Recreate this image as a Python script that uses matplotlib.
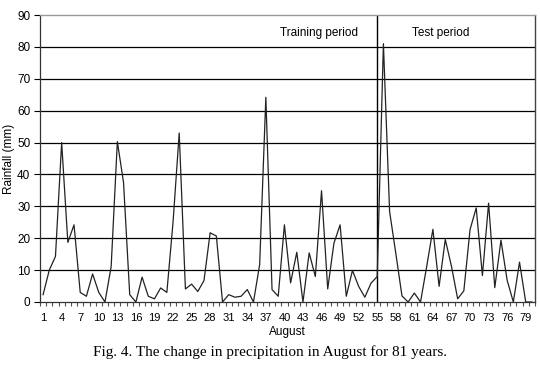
import matplotlib
matplotlib.use("Agg")
import matplotlib.pyplot as plt
from matplotlib.ticker import FixedLocator

years = list(range(1, 81))
rainfall = [2.3, 10, 14.3, 50, 18.7, 24.2, 3, 1.8, 8.8, 3,
            0, 11.1, 50.3, 37.5, 2.3, 0, 7.8, 1.8, 1, 4.4,
            3, 25, 53, 4.1, 5.6, 3.3, 6.7, 21.7, 20.7, 0,
            2.3, 1.5, 1.8, 3.9, 0, 11.7, 64.2, 3.9, 1.8, 24.2,
            6, 15.6, 0, 15.4, 8, 34.9, 4.1, 18.4, 24.2, 1.8,
            9.9, 4.9, 1.5, 5.9, 8, 81, 28.4, 15.3, 1.9, 0,
            2.8, 0, 11.2, 22.8, 4.9, 19.6, 11.2, 1, 3.5, 22.7,
            29.5, 8.3, 31, 4.5, 19.4, 6.8, 0, 12.5, 0, 0]
xtick_labels = list(range(1, 80, 3))
yticks = list(range(0, 91, 10))
split_year = 55
period_labels = ["Training period", "Test period"]

plt.rcParams['font.family'] = ['Liberation Sans', 'DejaVu Sans']

fig = plt.figure(figsize=(5.4, 3.72), dpi=100)
ax = fig.add_axes([40/540, 1 - 302/372, 495/540, 287/372])

ax.plot(years, rainfall, color='#222222', lw=0.9, zorder=3)

ax.set_xlim(0.5, len(years) + 0.5)
ax.set_ylim(0, 90)

ax.set_yticks(yticks)
for y in yticks[1:-1]:
    ax.axhline(y, color='black', lw=0.9, zorder=1)

ax.axvline(split_year, color='black', lw=1.0, zorder=2)

ax.set_xticks(xtick_labels)
ax.set_xticklabels([str(v) for v in xtick_labels], fontsize=8)
ax.xaxis.set_minor_locator(FixedLocator([i + 0.5 for i in range(0, len(years) + 1)]))
ax.tick_params(axis='x', which='major', length=0, pad=8)
ax.tick_params(axis='x', which='minor', length=3, width=0.8, color='#555555', direction='out')
ax.tick_params(axis='y', which='major', length=4, width=0.8, labelsize=8.5, pad=3)

for s in ['left', 'bottom']:
    ax.spines[s].set_color('#333333')
    ax.spines[s].set_linewidth(0.9)
ax.spines['top'].set_color('#999999')
ax.spines['top'].set_linewidth(1.0)
ax.spines['right'].set_color('#444444')
ax.spines['right'].set_linewidth(1.0)

fig.text(319/540, 1 - 33/372, period_labels[0], ha='center', va='center', fontsize=8.5)
fig.text(441/540, 1 - 33/372, period_labels[1], ha='center', va='center', fontsize=8.5)

ax.set_ylabel("Rainfall (mm)", fontsize=8.5)
ax.yaxis.set_label_coords((15 - 40) / 495, 0.5)
ax.set_xlabel("August", fontsize=8.5)
ax.xaxis.set_label_coords(0.5, -(326 - 302) / 287)

fig.text(0.5, 1 - 352/372, "Fig. 4. The change in precipitation in August for 81 years.",
         ha='center', va='center', fontsize=11,
         family=['Liberation Serif', 'DejaVu Serif'])

fig.savefig("out.png", dpi=100)
